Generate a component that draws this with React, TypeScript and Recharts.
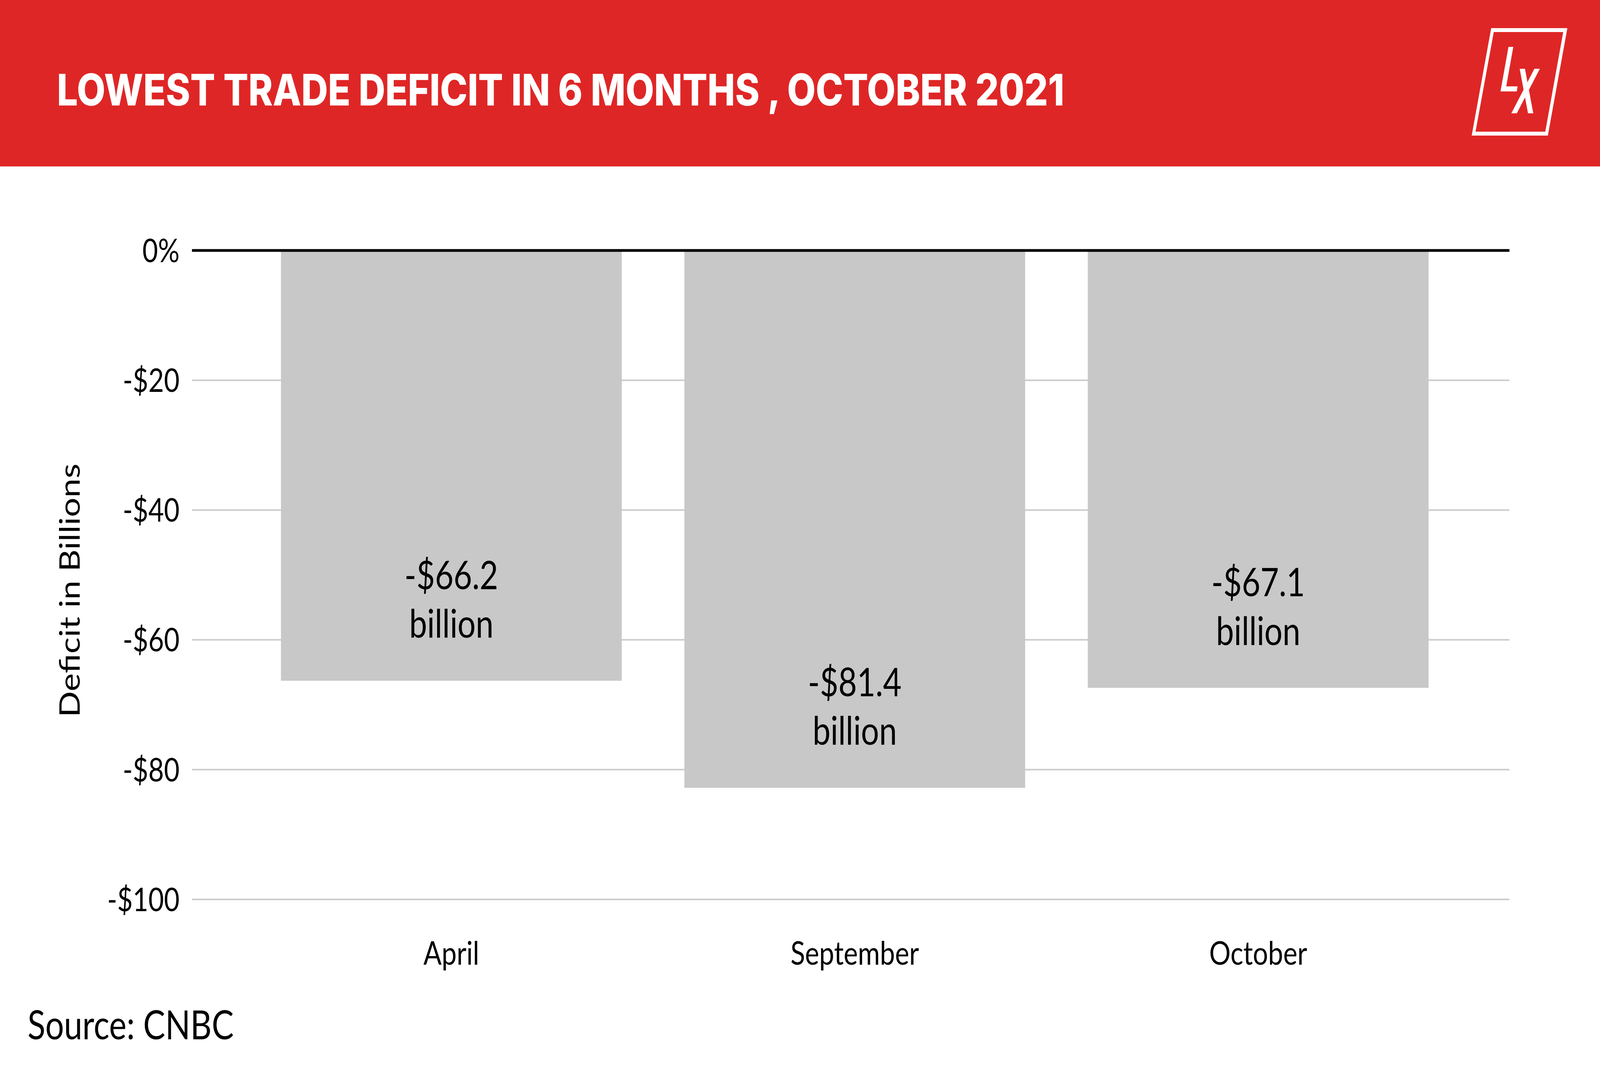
import React from 'react';
import { BarChart, Bar, XAxis, YAxis, CartesianGrid, ReferenceLine, LabelList } from 'recharts';

const months = ['April', 'September', 'October'];
const deficits = [-66.3, -82.8, -67.4];
const valueLabels = ['-$66.2', '-$81.4', '-$67.1'];
const unitLabel = 'billion';
const yTicks = [0, -20, -40, -60, -80, -100];
const yTickLabels = ['0%', '-$20', '-$40', '-$60', '-$80', '-$100'];

const titleText = 'LOWEST TRADE DEFICIT IN 6 MONTHS , OCTOBER 2021';
const yAxisTitle = 'Deficit in Billions';
const sourceText = 'Source: CNBC';

const RED = '#df2626';
const BAR = '#c8c8c8';
const FONT = 'Lato, "Noto Sans", sans-serif';
const TITLE_FONT = 'Inter, Lato, sans-serif';

const DESIGN_W = 5000;
const DESIGN_H = 2759;

const data = months.map((m, i) => ({ month: m, deficit: deficits[i], label: valueLabels[i] }));

const renderBarLabel = (props: any) => {
  const vb = props.viewBox && props.viewBox.width !== undefined ? props.viewBox : props;
  const x = Number(vb.x);
  const y = Number(vb.y);
  const w = Number(vb.width);
  const h = Number(vb.height);
  const bottom = Math.max(y, y + h);
  const cx = x + w / 2;
  return (
    <g>
      <text x={cx} y={bottom - 234} textAnchor="middle" fontSize={100} fill="#000" fontFamily={FONT}>
        {props.value}
      </text>
      <text x={cx} y={bottom - 110} textAnchor="middle" fontSize={100} fill="#000" fontFamily={FONT}>
        {unitLabel}
      </text>
    </g>
  );
};

export default function App() {
  const viewW = typeof window !== 'undefined' && window.innerWidth ? window.innerWidth : DESIGN_W;
  const sx = Math.min(1, viewW / DESIGN_W);
  return (
    <div style={{ position: 'absolute', left: 0, top: 0, width: DESIGN_W * sx, height: DESIGN_H, overflow: 'hidden', background: '#fff' }}>
      <div
        style={{
          position: 'absolute',
          left: 0,
          top: 0,
          width: DESIGN_W,
          height: DESIGN_H,
          background: '#fff',
          fontFamily: FONT,
          transform: `scaleX(${sx})`,
          transformOrigin: '0 0',
        }}
      >
        <div style={{ position: 'absolute', left: 0, top: 0 }}>
          <BarChart
            width={DESIGN_W}
            height={DESIGN_H}
            data={data}
            margin={{ top: 641, right: 283, bottom: 257, left: 200 }}
          >
            <CartesianGrid vertical={false} stroke="#cccccc" strokeWidth={4} />
            <XAxis
              dataKey="month"
              height={200}
              padding={{ left: 180, right: 155 }}
              axisLine={false}
              tickLine={false}
              tickSize={0}
              tickMargin={107}
              interval={0}
              tick={{ fontSize: 84, fill: '#000', fontFamily: FONT }}
            />
            <YAxis
              width={400}
              domain={[-100, 0]}
              ticks={yTicks}
              interval={0}
              tickFormatter={(v: number) => yTickLabels[yTicks.indexOf(v)]}
              axisLine={false}
              tickLine={false}
              tickSize={0}
              tickMargin={39}
              tick={{ fontSize: 84, fill: '#000', fontFamily: FONT }}
            />
            <Bar dataKey="deficit" fill={BAR} barSize={1065} isAnimationActive={false}>
              <LabelList dataKey="label" content={renderBarLabel} />
            </Bar>
            <ReferenceLine y={0} stroke="#000" strokeWidth={7} />
          </BarChart>
        </div>
        <svg width={DESIGN_W} height={DESIGN_H} style={{ position: 'absolute', left: 0, top: 0, pointerEvents: 'none' }}>
          <rect x={0} y={0} width={DESIGN_W} height={426} fill={RED} />
          <text
            x={178}
            y={270}
            fontSize={112}
            fontWeight={800}
            fill="#fff"
            fontFamily={TITLE_FONT}
            textLength={3148}
            lengthAdjust="spacingAndGlyphs"
          >
            {titleText}
          </text>
          <path
            fillRule="evenodd"
            fill="#fff"
            d="M4660,72 L4898,72 L4837,347 L4599,347 Z M4668,82 L4611,337 L4829,337 L4885,82 Z"
          />
          <path fill="#fff" d="M4714,120 L4729,120 L4707,221 L4742.5,221 L4740,234 L4689,234 Z" />
          <path fill="#fff" d="M4749,176 L4765.5,176 L4791.5,290 L4775,290 Z" />
          <path fill="#fff" d="M4795,176 L4812,176 L4740,290 L4723,290 Z" />
          <text transform="translate(249,1511) rotate(-90)" textAnchor="middle" fontSize={88} fill="#000" fontFamily={FONT}>
            {yAxisTitle}
          </text>
          <text x={86} y={2660} fontSize={103} fill="#000" fontFamily={FONT}>
            {sourceText}
          </text>
        </svg>
      </div>
    </div>
  );
}
